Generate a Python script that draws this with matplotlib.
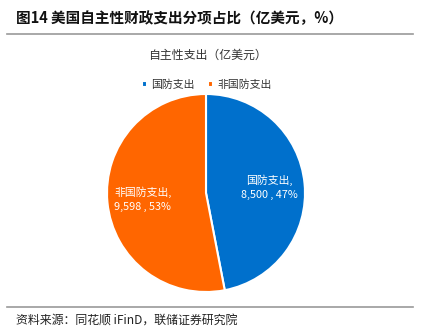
import matplotlib.pyplot as plt
from matplotlib.lines import Line2D

plt.rcParams['font.family'] = ['Noto Sans CJK SC', 'DejaVu Sans']

# 自主性财政支出分项（亿美元）
categories = ['国防支出', '非国防支出']
values = [8500, 9598]
colors = ['#0070CC', '#FF6600']


def main():
    fig = plt.figure(figsize=(4.27, 3.36), dpi=100)

    # 标题与上下分隔线
    fig.text(16 / 427, 1 - 18 / 336, '图14 美国自主性财政支出分项占比（亿美元，%）',
             fontsize=10.5, fontweight='bold', ha='left', va='center', color='#111111')
    fig.add_artist(Line2D([7 / 427, 413 / 427], [1 - 34 / 336] * 2, color='#999999', lw=1.2))
    fig.add_artist(Line2D([7 / 427, 413 / 427], [1 - 307 / 336] * 2, color='#999999', lw=1.2))
    fig.text(16 / 427, 1 - 320 / 336, '资料来源：同花顺 iFinD，联储证券研究院',
             fontsize=8.6, ha='left', va='center', color='#222222')

    fig.text(207 / 427, 1 - 55 / 336, '自主性支出（亿美元）', fontsize=8.6,
             ha='center', va='center', color='#333333')

    ax = fig.add_axes([107 / 427, 1 - 292 / 336, 198 / 427, 198 / 336])
    total = sum(values)

    def fmt(pct):
        v = round(pct * total / 100)
        i = min(range(len(values)), key=lambda k: abs(values[k] - v))
        return f'{categories[i]},\n{values[i]:,} , {pct:.0f}%'

    wedges, _, autotexts = ax.pie(values, colors=colors, startangle=90, counterclock=False,
                                  autopct=fmt, pctdistance=0.64,
                                  wedgeprops=dict(edgecolor='white', linewidth=1.5))
    for t in autotexts:
        t.set_color('white')
        t.set_fontsize(7.8)
        t.set_linespacing(1.5)
    ax.set_xlim(-1.0, 1.0)
    ax.set_ylim(-1.0, 1.0)
    ax.set_aspect('equal')

    leg = fig.legend(wedges, categories, loc='center', bbox_to_anchor=(207 / 427, 1 - 85 / 336),
                     ncol=2, frameon=False, fontsize=7.8, handlelength=0.5, handleheight=0.5,
                     handletextpad=0.4, columnspacing=1.2)
    for t in leg.get_texts():
        t.set_color('#333333')

    fig.savefig('out.png', dpi=100)


if __name__ == '__main__':
    main()
